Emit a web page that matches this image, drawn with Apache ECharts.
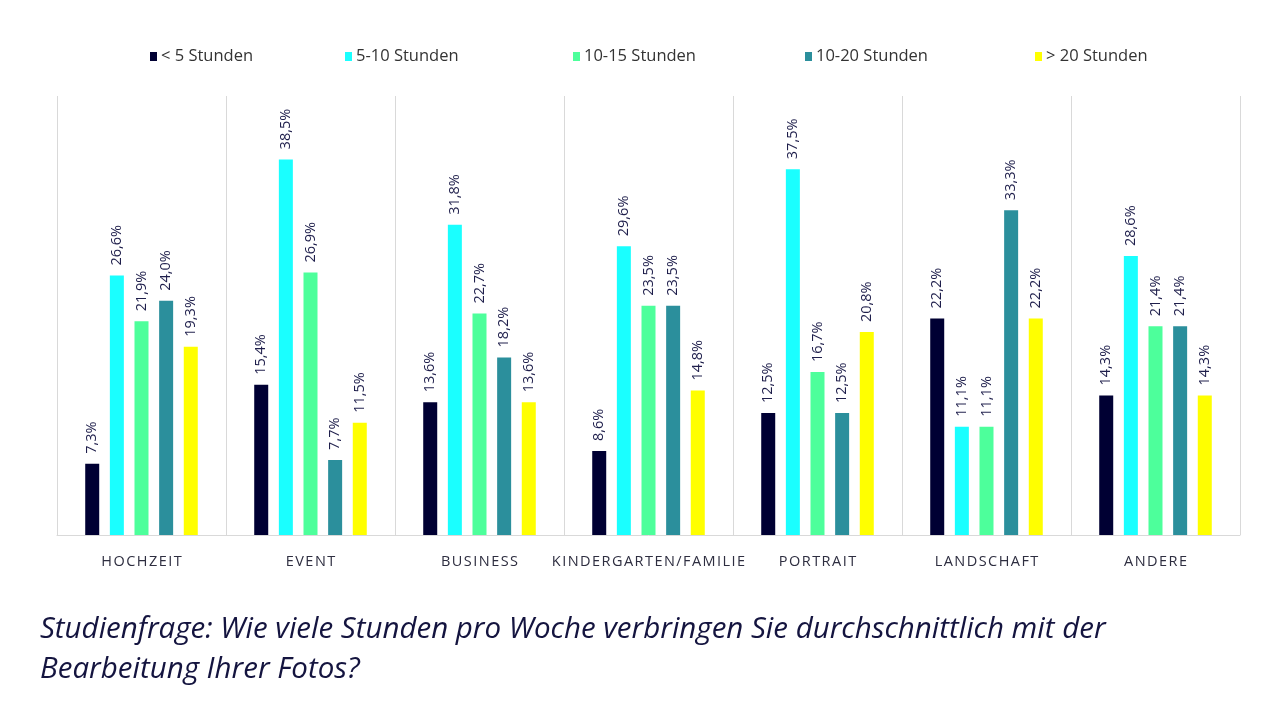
<!DOCTYPE html>
<html>
<head>
<meta charset="utf-8">
<script src="https://cdn.jsdelivr.net/npm/echarts@6/dist/echarts.min.js"></script>
<style>html,body{margin:0;padding:0;background:#fff}#c{width:1274px;height:706px}</style>
</head>
<body>
<div id="c"></div>
<script>
const categories = ['HOCHZEIT','EVENT','BUSINESS','KINDERGARTEN/FAMILIE','PORTRAIT','LANDSCHAFT','ANDERE'];
const seriesNames = ['< 5 Stunden','5-10 Stunden','10-15 Stunden','10-20 Stunden','> 20 Stunden'];
const under5 = [7.3, 15.4, 13.6, 8.6, 12.5, 22.2, 14.3];
const h5to10 = [26.6, 38.5, 31.8, 29.6, 37.5, 11.1, 28.6];
const h10to15 = [21.9, 26.9, 22.7, 23.5, 16.7, 11.1, 21.4];
const h10to20 = [24.0, 7.7, 18.2, 23.5, 12.5, 33.3, 21.4];
const over20 = [19.3, 11.5, 13.6, 14.8, 20.8, 22.2, 14.3];
const caption = 'Studienfrage: Wie viele Stunden pro Woche verbringen Sie durchschnittlich mit der\nBearbeitung Ihrer Fotos?';

const colors = ['#000033', '#1affff', '#4dff9b', '#2b8f9c', '#ffff00'];
const dataSets = [under5, h5to10, h10to15, h10to20, over20];
const legendLefts = [145, 340, 568, 800, 1030];

const chart = echarts.init(document.getElementById('c'), null, {renderer: 'canvas'});
const option = {
  animation: false,
  backgroundColor: '#ffffff',
  textStyle: {fontFamily: '"Open Sans", "Noto Sans", sans-serif'},
  title: {
    text: caption,
    left: 35, top: 605,
    textStyle: {fontFamily: '"Open Sans", sans-serif', fontStyle: 'italic', fontWeight: 'normal', fontSize: 29.5, lineHeight: 40, color: '#14143f'}
  },
  legend: seriesNames.map((n, i) => ({
    data: [n], left: legendLefts[i], top: 43, icon: 'rect', itemWidth: 7, itemHeight: 9,
    selectedMode: false,
    textStyle: {fontSize: 16.5, color: '#333333', fontFamily: '"Open Sans", sans-serif', padding: [0, 0, 0, -1]}
  })),
  grid: {left: 57, right: 34, top: 96, bottom: 171, containLabel: false},
  xAxis: {
    type: 'category', data: categories,
    axisLine: {show: true, lineStyle: {color: '#d9d9d9', width: 1}},
    axisTick: {show: false},
    splitLine: {show: true, interval: 0, lineStyle: {color: '#d9d9d9', width: 1}},
    axisLabel: {interval: 0, margin: 19, fontSize: 14.5, color: '#2e2e40', fontFamily: '"Open Sans", sans-serif',
      formatter: v => v.split('').join('\u200A')}
  },
  yAxis: {type: 'value', min: 0, max: 45, show: false, splitLine: {show: false}},
  series: seriesNames.map((n, i) => ({
    name: n, type: 'bar', data: dataSets[i], barWidth: 14, barGap: '76%',
    itemStyle: {color: colors[i]},
    label: {show: true, position: 'top', rotate: 90, align: 'left', verticalAlign: 'middle', distance: 10,
      fontSize: 14.5, color: '#1e1e4b', fontFamily: '"Open Sans", sans-serif',
      formatter: p => p.value.toFixed(1).replace('.', ',') + '%'}
  }))
};
chart.setOption(option);
</script>
</body>
</html>
